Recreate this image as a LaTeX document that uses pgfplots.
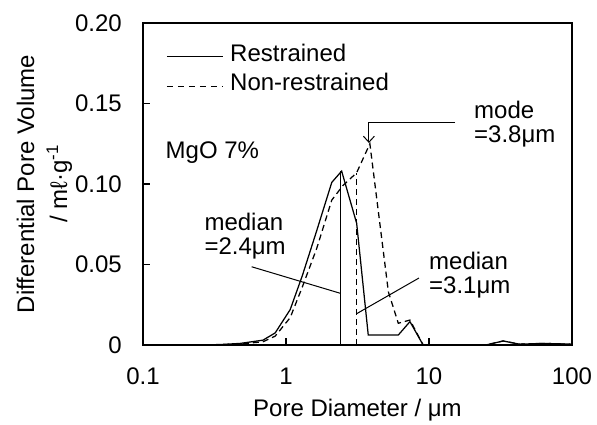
\documentclass[border=0pt]{standalone}
\usepackage{fontspec}
\setmainfont{Liberation Sans}
\usepackage{pgfplots}
\pgfplotsset{compat=1.18}
\usetikzlibrary{arrows.meta}
\begin{document}
\fontsize{24}{26}\selectfont
\begin{tikzpicture}
\path[use as bounding box] (0,0) rectangle (597pt,425pt);
\begin{axis}[
  at={(143pt,80pt)}, anchor=south west,
  scale only axis, width=429pt, height=322pt,
  xmode=log, log basis x=10, xmin=0.1, xmax=100, ymin=0, ymax=0.2,
  xtick={0.1,1,10,100}, xticklabels={0.1,1,10,100},
  minor xtick={},
  ytick={0,0.05,0.1,0.15,0.2}, yticklabels={0,0.05,0.10,0.15,0.20},
  xtick pos=left, ytick pos=left,
  tick align=inside, major tick length=7pt,
  axis line style={line width=1.5pt},
  every tick/.style={black, line width=1.2pt},
  tick label style={inner sep=0pt},
  yticklabel style={xshift=-21pt},
  xticklabel style={yshift=-22.5pt},
  /pgf/number format/assume math mode=true,
  xlabel={Pore Diameter / μm},
  xlabel style={at={(axis description cs:0.5,-0.2227)}, anchor=base, inner sep=0pt},
  ylabel={Differential Pore Volume\\[7pt]/ mℓ·g\textsuperscript{-1}},
  ylabel style={at={(axis description cs:-0.2296,0.5)}, anchor=center, align=center, inner sep=0pt},
  clip=false,
]
\addplot[black, line width=1.25pt] coordinates {
(0.1,0) (0.25,0) (0.35,0.0003) (0.48,0.001) (0.69,0.003) (0.84,0.0075) (1.07,0.022)
(1.3,0.043) (1.64,0.071) (2.09,0.101) (2.45,0.108) (3.12,0.0756) (3.76,0.0062)
(6.1,0.0062) (7.36,0.0145) (9.1,0) (25,0) (33,0.0025) (43,0.0005) (62,0.001) (100,0.0005)
};
\addplot[black, line width=1.25pt, dash pattern=on 6pt off 4pt] coordinates {
(0.1,0) (0.25,0) (0.35,0.0002) (0.5,0.0008) (0.69,0.002) (0.84,0.0055) (1.07,0.017)
(1.3,0.036) (1.64,0.060) (2.09,0.090) (2.5,0.099) (3.12,0.107) (3.86,0.125)
(5.2,0.033) (6.1,0.0135) (7.36,0.0155) (9.1,0) (25,0) (33,0.0025) (43,0.0005) (62,0.001) (100,0.0005)
};
\addplot[black, line width=1.25pt, forget plot] coordinates {(2.4,0) (2.4,0.108)};
\addplot[black, line width=1.25pt, dash pattern=on 6pt off 4pt, forget plot] coordinates {(3.1,0) (3.1,0.107)};
% legend
\draw[black, line width=1.2pt] (axis description cs:0.0559,0.8953) -- (axis description cs:0.1872,0.8953);
\node[anchor=base west, inner sep=0pt] at (axis description cs:0.2028,0.8798) {Restrained};
\draw[black, line width=1.2pt, dash pattern=on 6pt off 5pt] (axis description cs:0.0559,0.8022) -- (axis description cs:0.1872,0.8022);
\node[anchor=base west, inner sep=0pt] at (axis description cs:0.2028,0.7919) {Non-restrained};
% annotations
\node[anchor=base west, inner sep=0pt] at (axis cs:0.1437,0.1161) {MgO 7\%};
\node[anchor=base west, inner sep=0pt] at (axis cs:0.2685,0.0713) {median};
\node[anchor=base west, inner sep=0pt] at (axis cs:0.2685,0.0563) {=2.4μm};
\node[anchor=base west, inner sep=0pt] at (axis cs:10,0.0468) {median};
\node[anchor=base west, inner sep=0pt] at (axis cs:10,0.0320) {=3.1μm};
\node[anchor=base west, inner sep=0pt] at (axis cs:20.64,0.1407) {mode};
\node[anchor=base west, inner sep=0pt] at (axis cs:20.64,0.1258) {=3.8μm};
\draw[line width=1pt] (axis cs:0.575,0.0486) -- (axis cs:2.4,0.0321);
\draw[line width=1pt] (axis cs:3.1,0.0193) -- (axis cs:8.51,0.0416);
\draw[line width=1pt, -{Straight Barb[length=6pt,width=11pt]}] (axis cs:15.2,0.1385) -- (axis cs:3.8,0.1385) -- (axis cs:3.8,0.1255);
\end{axis}
\end{tikzpicture}
\end{document}
